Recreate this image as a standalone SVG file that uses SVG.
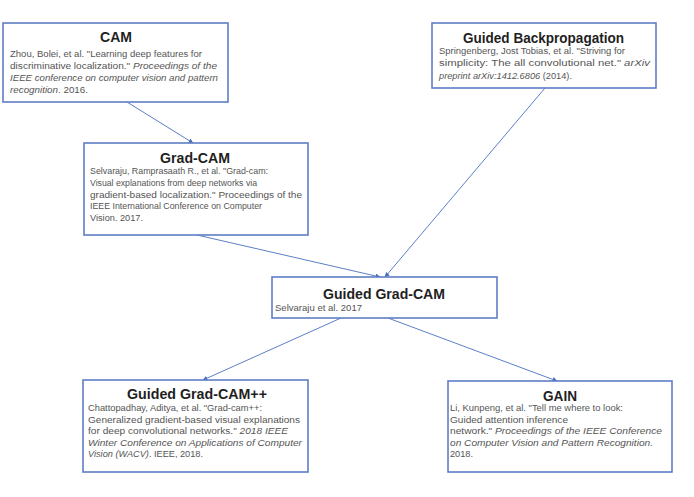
<svg xmlns="http://www.w3.org/2000/svg" width="694" height="497" viewBox="0 0 694 497">
<style>
.box{fill:#ffffff;stroke:#5f7ec6;stroke-width:1.6}
.t{font-family:"Liberation Sans",Arial,sans-serif;font-weight:bold;font-size:15px;fill:#1f1f1f;text-anchor:middle}
.b{font-family:"Liberation Sans",Arial,sans-serif;font-size:9.6px;fill:#555555}
.s{font-size:9.2px}
.i{font-style:italic}
.c{fill:none;stroke:#5b7fc7;stroke-width:1;marker-end:url(#ah)}
</style>
<defs>
<marker id="ah" viewBox="0 0 10 10" refX="9" refY="5" markerWidth="5" markerHeight="5" orient="auto" markerUnits="userSpaceOnUse">
<path d="M0,0 L10,5 L0,10 z" fill="#4a6fc0"/>
</marker>
</defs>
<rect width="694" height="497" fill="#ffffff"/>
<g id="connectors">
<line class="c" x1="127" y1="102" x2="193" y2="143"/>
<line class="c" x1="197" y1="235" x2="380" y2="277"/>
<line class="c" x1="545" y1="88" x2="385" y2="277"/>
<line class="c" x1="341" y1="318" x2="203" y2="380"/>
<line class="c" x1="388" y1="318" x2="557" y2="381"/>
</g>
<g id="cam">
<rect class="box" x="3" y="23" width="225" height="79"/>
<text class="t" x="116" y="41.5" textLength="32" lengthAdjust="spacingAndGlyphs">CAM</text>
<text class="b" x="10" y="57" textLength="192" lengthAdjust="spacingAndGlyphs">Zhou, Bolei, et al. "Learning deep features for</text>
<text class="b" x="10" y="69" textLength="207" lengthAdjust="spacingAndGlyphs">discriminative localization." <tspan class="i">Proceedings of the</tspan></text>
<text class="b i" x="10" y="81" textLength="208" lengthAdjust="spacingAndGlyphs">IEEE conference on computer vision and pattern</text>
<text class="b" x="10" y="93" textLength="78" lengthAdjust="spacingAndGlyphs"><tspan class="i">recognition</tspan>. 2016.</text>
</g>
<g id="guided-backprop">
<rect class="box" x="432" y="23" width="224" height="65"/>
<text class="t" x="543.5" y="42.5" textLength="161" lengthAdjust="spacingAndGlyphs">Guided Backpropagation</text>
<text class="b s" x="439" y="54" textLength="186" lengthAdjust="spacingAndGlyphs">Springenberg, Jost Tobias, et al. "Striving for</text>
<text class="b s" x="439" y="66" textLength="211" lengthAdjust="spacingAndGlyphs">simplicity: The all convolutional net." <tspan class="i">arXiv</tspan></text>
<text class="b s" x="439" y="78.5" textLength="133" lengthAdjust="spacingAndGlyphs"><tspan class="i">preprint arXiv:1412.6806</tspan> (2014).</text>
</g>
<g id="grad-cam">
<rect class="box" x="84" y="143" width="224" height="92"/>
<text class="t" x="195" y="162.5" textLength="70" lengthAdjust="spacingAndGlyphs">Grad-CAM</text>
<text class="b" x="90" y="174" textLength="178" lengthAdjust="spacingAndGlyphs">Selvaraju, Ramprasaath R., et al. "Grad-cam:</text>
<text class="b" x="90" y="186" textLength="167" lengthAdjust="spacingAndGlyphs">Visual explanations from deep networks via</text>
<text class="b" x="90" y="197.5" textLength="212" lengthAdjust="spacingAndGlyphs">gradient-based localization." Proceedings of the</text>
<text class="b" x="90" y="209" textLength="172" lengthAdjust="spacingAndGlyphs">IEEE International  Conference on  Computer</text>
<text class="b" x="90" y="221" textLength="53" lengthAdjust="spacingAndGlyphs">Vision. 2017.</text>
</g>
<g id="guided-grad-cam">
<rect class="box" x="272" y="277" width="225" height="41"/>
<text class="t" x="384" y="298.5" textLength="122" lengthAdjust="spacingAndGlyphs">Guided Grad-CAM</text>
<text class="b" x="275" y="311" textLength="87" lengthAdjust="spacingAndGlyphs">Selvaraju et al. 2017</text>
</g>
<g id="guided-grad-cam-pp">
<rect class="box" x="83" y="380" width="225" height="92"/>
<text class="t" x="197" y="398.5" textLength="140" lengthAdjust="spacingAndGlyphs">Guided Grad-CAM++</text>
<text class="b" x="88" y="411" textLength="174" lengthAdjust="spacingAndGlyphs">Chattopadhay, Aditya, et al. "Grad-cam++:</text>
<text class="b" x="88" y="422.5" textLength="212" lengthAdjust="spacingAndGlyphs">Generalized gradient-based visual explanations</text>
<text class="b" x="88" y="434" textLength="200" lengthAdjust="spacingAndGlyphs">for deep convolutional  networks."  <tspan class="i">2018 IEEE</tspan></text>
<text class="b i" x="88" y="445.5" textLength="214" lengthAdjust="spacingAndGlyphs">Winter Conference on Applications of Computer</text>
<text class="b" x="88" y="457" textLength="115" lengthAdjust="spacingAndGlyphs"><tspan class="i">Vision (WACV)</tspan>. IEEE, 2018.</text>
</g>
<g id="gain">
<rect class="box" x="448" y="381" width="224" height="91"/>
<text class="t" x="560" y="400.5" textLength="34" lengthAdjust="spacingAndGlyphs">GAIN</text>
<text class="b" x="450" y="411" textLength="173" lengthAdjust="spacingAndGlyphs">Li, Kunpeng, et al. "Tell me where to look:</text>
<text class="b" x="450" y="422.5" textLength="118" lengthAdjust="spacingAndGlyphs">Guided attention inference</text>
<text class="b" x="450" y="434" textLength="212" lengthAdjust="spacingAndGlyphs">network."  <tspan class="i">Proceedings of the IEEE Conference</tspan></text>
<text class="b i" x="450" y="445.5" textLength="203" lengthAdjust="spacingAndGlyphs">on Computer Vision and Pattern Recognition.</text>
<text class="b" x="450" y="457" textLength="23" lengthAdjust="spacingAndGlyphs">2018.</text>
</g>
</svg>
